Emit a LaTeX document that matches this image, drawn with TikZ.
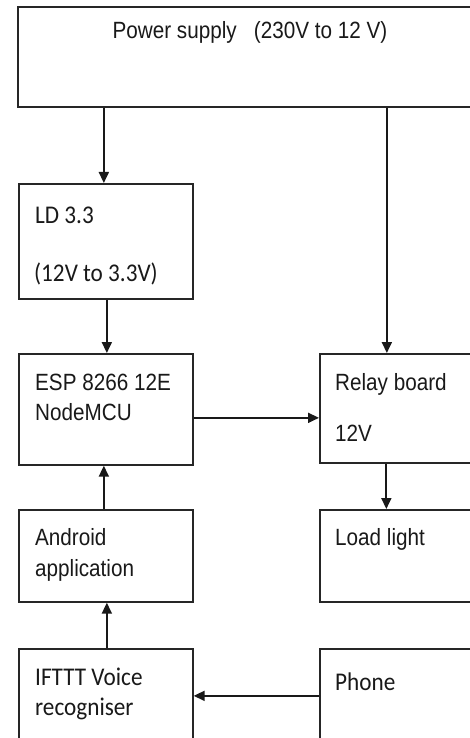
\documentclass[tikz,border=0pt]{standalone}
\usepackage{fontspec}
\setmainfont{Liberation Sans}
\newfontfamily\cond[FakeStretch=0.88]{Liberation Sans}
\newfontfamily\carl[FakeStretch=0.91]{Carlito}
\usetikzlibrary{arrows.meta}
\tikzset{
  box/.style={draw=black!85, line width=1.7pt, rectangle, inner sep=0pt, anchor=north west},
  arr/.style={draw=black!90, line width=1.8pt, -{Triangle[length=11pt,width=10pt]}},
  txt/.style={anchor=base west, inner sep=0pt, text=black!90, font=\cond\fontsize{23.5}{27}\selectfont},
  ctxt/.style={anchor=base west, inner sep=0pt, text=black!90, font=\carl\fontsize{25.5}{29}\selectfont}
}
\begin{document}
\begin{tikzpicture}[x=1pt,y=-1pt]
\useasboundingbox (0,0) rectangle (470,738);
\clip (0,0) rectangle (470,738);
\fill[white] (0,0) rectangle (470,738);
% boxes
\node[box, minimum width=463pt, minimum height=100pt] (ps) at (17,6) {};
\node[box, minimum width=174pt, minimum height=115pt] (ld) at (18,183) {};
\node[box, minimum width=174pt, minimum height=111pt] (esp) at (18,353) {};
\node[box, minimum width=161pt, minimum height=109pt] (relay) at (319,353) {};
\node[box, minimum width=174pt, minimum height=92pt] (and) at (18,509) {};
\node[box, minimum width=161pt, minimum height=92pt] (load) at (319,509) {};
\node[box, minimum width=174pt, minimum height=102pt] (ifttt) at (18,648) {};
\node[box, minimum width=161pt, minimum height=102pt] (phone) at (319,648) {};
% texts
\node[txt, anchor=base] (t1) at (250,39) {Power supply\ \ \ (230V to 12 V)};
\node[ctxt] (t2) at (35,223) {LD 3.3};
\node[ctxt] (t3) at (34,281) {(12V to 3.3V)};
\node[txt] (t4) at (35,390) {ESP 8266 12E};
\node[txt] (t5) at (35,420) {NodeMCU};
\node[txt] (t6) at (335,390) {Relay board};
\node[txt] (t7) at (335,441) {12V};
\node[txt] (t8) at (35,545) {Android};
\node[txt] (t9) at (35,576) {application};
\node[txt] (t10) at (335,545) {Load light};
\node[ctxt] (t11) at (35,685) {IFTTT Voice};
\node[ctxt] (t12) at (35,715) {recogniser};
\node[ctxt] (t13) at (335,690) {Phone};
% connectors
\draw[arr] ([xshift=-2pt]ld.north |- ps.south) -- ([xshift=-2pt]ld.north);
\draw[arr] ([xshift=-13.5pt]relay.north |- ps.south) -- ([xshift=-13.5pt]relay.north);
\draw[arr] ([xshift=1pt]ld.south) -- ([xshift=1pt]esp.north);
\draw[arr] ([yshift=-8.5pt]esp.east) -- ([yshift=-8.5pt]esp.east -| relay.west);
\draw[arr] ([xshift=-14pt]relay.south) -- ([xshift=-14pt]load.north);
\draw[arr] ([xshift=-2pt]and.north) -- ([xshift=-2pt]esp.south);
\draw[arr] ([xshift=1pt]ifttt.north) -- ([xshift=1pt]and.south);
\draw[arr] ([yshift=4pt]ifttt.east -| phone.west) -- ([yshift=4pt]ifttt.east);
\end{tikzpicture}
\end{document}
